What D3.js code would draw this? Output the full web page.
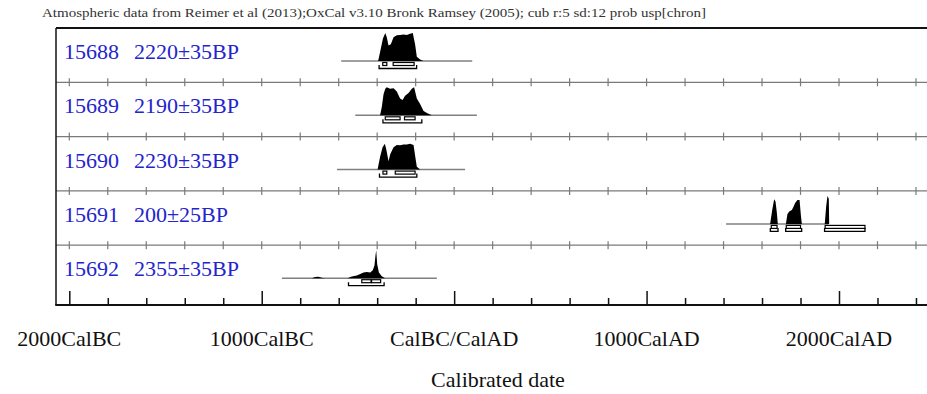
<!DOCTYPE html>
<html>
<head>
<meta charset="utf-8">
<script src="https://cdn.jsdelivr.net/npm/d3@7"></script>
<style>
  body { margin: 0; background: #fff; }
  text { font-family: "Liberation Serif", "Times New Roman", serif; }
</style>
</head>
<body>
<div id="chart"></div>
<script>
// sample names and measured ages
var sampleIds = ["15688", "15689", "15690", "15691", "15692"];
var sampleAges = ["2220±35BP", "2190±35BP", "2230±35BP", "200±25BP", "2355±35BP"];

// probability curves, [year, relative probability], years BC negative
var prob15688 = [[-395,0],[-384,0.35],[-370,0.8],[-358,1],[-350,0.85],[-341,0.55],[-329,0.6],[-315,0.85],
  [-298,0.92],[-281,0.93],[-263,0.95],[-246,0.93],[-229,0.97],[-215,1],[-203,0.6],[-194,0.15],[-177,0.05],[-160,0]];
var prob15689 = [[-385,0],[-376,0.3],[-367,0.75],[-358,0.95],[-350,1],[-333,0.95],[-315,0.97],[-298,0.85],
  [-281,0.6],[-268,0.55],[-255,0.7],[-237,0.8],[-220,0.95],[-208,1],[-194,0.6],[-177,0.4],[-159,0.15],[-139,0.07],[-116,0]];
var prob15690 = [[-398,0],[-385,0.45],[-372,0.8],[-360,0.92],[-352,0.7],[-341,0.3],[-332,0.55],[-315,0.8],
  [-298,0.88],[-281,0.87],[-263,0.9],[-246,0.9],[-229,0.92],[-211,0.88],[-203,0.5],[-194,0.1],[-177,0]];
var prob15691 = [[1642,0],[1653,0.5],[1663,0.88],[1670,0.8],[1677,0.4],[1682,0],[1724,0],[1732,0.35],[1743,0.45],
  [1755,0.5],[1763,0.6],[1772,0.75],[1784,0.85],[1795,0.85],[1802,0.3],[1807,0],[1926,0],[1933,0.6],[1940,1],[1947,0.9],[1949,0]];
var prob15692 = [[-740,0],[-722,0.04],[-705,0.05],[-688,0.02],[-670,0],[-554,0],[-532,0.06],[-506,0.1],[-488,0.15],
  [-471,0.2],[-454,0.22],[-436,0.2],[-423,0.28],[-414,0.45],[-409,0.8],[-405,1],[-400,0.5],[-391,0.2],[-376,0.07],[-359,0]];

// extent of the grey line under each curve
var spans = [[-587, 94], [-514, 118], [-609, 57], [1413, 1945], [-895, -90]];

// 68.2% and 95.4% ranges
var ranges68 = [
  [[-371, -350], [-317, -208]],
  [[-358, -281], [-258, -203]],
  [[-370, -350], [-306, -203]],
  [[1648, 1678], [1726, 1800], [1928, 2135]],
  [[-480, -432], [-429, -382]]
];
var ranges95 = [
  [[-390, -195]],
  [[-370, -168]],
  [[-388, -194]],
  [[1643, 1683], [1723, 1806], [1925, 2135]],
  [[-549, -364]]
];

// axis ticks
var minorTicks = d3.range(-2000, 2401, 200);
var majorTicks = [-2000, -1000, 0, 1000, 2000];
var majorLabels = ["2000CalBC", "1000CalBC", "CalBC/CalAD", "1000CalAD", "2000CalAD"];

var probs = [prob15688, prob15689, prob15690, prob15691, prob15692];

var W = 927, H = 394;
var plotLeft = 56, plotTop = 28, rowH = 54.3, axisY = 305;
var peakH = 28;

var svg = d3.select("#chart").append("svg")
  .attr("width", W).attr("height", H);

var x = d3.scaleLinear().domain([-2000, 2000]).range([69.3, 839]);

// header
svg.append("text")
  .attr("x", 42).attr("y", 17)
  .attr("font-size", 12)
  .attr("textLength", 664)
  .attr("lengthAdjust", "spacingAndGlyphs")
  .attr("fill", "#333")
  .text("Atmospheric data from Reimer et al (2013);OxCal v3.10 Bronk Ramsey (2005); cub r:5 sd:12 prob usp[chron]");

// row separators with ticks
for (var i = 1; i < sampleIds.length; i++) {
  var sy = plotTop + i * rowH;
  svg.append("line")
    .attr("x1", plotLeft).attr("x2", W + 5)
    .attr("y1", sy).attr("y2", sy)
    .attr("stroke", "#7a7a7a").attr("stroke-width", 1.3);
  svg.selectAll(null).data(minorTicks).enter().append("line")
    .attr("x1", d => x(d)).attr("x2", d => x(d))
    .attr("y1", sy - 4).attr("y2", sy + 4)
    .attr("stroke", "#7a7a7a").attr("stroke-width", 1.2);
}

sampleIds.forEach(function(id, i) {
  var rowTop = plotTop + i * rowH;
  var base = rowTop + 33;

  svg.append("text")
    .attr("x", 64).attr("y", rowTop + 31)
    .attr("font-size", 22).attr("fill", "#2424cc")
    .text(id);
  svg.append("text")
    .attr("x", 134).attr("y", rowTop + 31)
    .attr("font-size", 22).attr("fill", "#2424cc")
    .text(sampleAges[i]);

  svg.append("line")
    .attr("x1", x(spans[i][0])).attr("x2", x(spans[i][1]))
    .attr("y1", base).attr("y2", base)
    .attr("stroke", "#808080").attr("stroke-width", 1.5);

  var area = d3.area()
    .x(d => x(d[0]))
    .y0(base)
    .y1(d => base - d[1] * peakH);

  svg.append("path")
    .datum(probs[i])
    .attr("d", area)
    .attr("fill", "#000");

  // 68.2% ranges as thin boxes
  ranges68[i].forEach(function(r) {
    svg.append("rect")
      .attr("x", x(r[0])).attr("y", base + 1.5)
      .attr("width", x(r[1]) - x(r[0])).attr("height", 3)
      .attr("fill", "none").attr("stroke", "#000").attr("stroke-width", 1.2);
  });

  // 95.4% ranges as brackets
  ranges95[i].forEach(function(r) {
    var by = base + 7.5;
    svg.append("path")
      .attr("d", "M" + x(r[0]) + "," + (by - 3.5) + "V" + by + "H" + x(r[1]) + "V" + (by - 3.5))
      .attr("fill", "none").attr("stroke", "#000").attr("stroke-width", 1.3);
  });
});

// frame
svg.append("line")
  .attr("x1", plotLeft).attr("x2", W + 5)
  .attr("y1", plotTop).attr("y2", plotTop)
  .attr("stroke", "#111").attr("stroke-width", 2);
svg.append("line")
  .attr("x1", plotLeft).attr("x2", plotLeft)
  .attr("y1", plotTop).attr("y2", axisY)
  .attr("stroke", "#111").attr("stroke-width", 1.5);

// bottom axis
var axis = d3.axisTop(x)
  .tickValues(minorTicks)
  .tickSizeInner(7).tickSizeOuter(0)
  .tickFormat("");
var gAxis = svg.append("g")
  .attr("transform", "translate(0," + axisY + ")")
  .call(axis);
gAxis.select(".domain").remove();
gAxis.selectAll(".tick line")
  .attr("stroke", "#111").attr("stroke-width", 1.5)
  .attr("y2", d => majorTicks.indexOf(d) >= 0 ? -14 : -7);
svg.append("line")
  .attr("x1", plotLeft - 0.75).attr("x2", W + 5)
  .attr("y1", axisY).attr("y2", axisY)
  .attr("stroke", "#111").attr("stroke-width", 2);

svg.selectAll(".major-label").data(majorTicks).enter().append("text")
  .attr("class", "major-label")
  .attr("x", d => x(d)).attr("y", 346)
  .attr("text-anchor", "middle")
  .attr("font-size", 22).attr("fill", "#111")
  .text((d, i) => majorLabels[i]);

svg.append("text")
  .attr("x", 498).attr("y", 387)
  .attr("text-anchor", "middle")
  .attr("font-size", 22).attr("fill", "#111")
  .text("Calibrated date");
</script>
</body>
</html>
